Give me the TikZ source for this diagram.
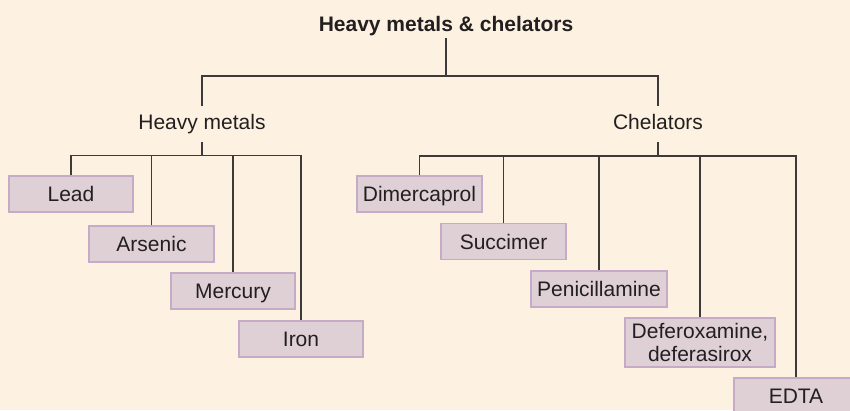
\documentclass[tikz,border=0pt]{standalone}
\usepackage{fontspec}
\setmainfont{Liberation Sans}
\definecolor{bg}{HTML}{FDF2E2}
\definecolor{boxfill}{HTML}{DFD0D6}
\definecolor{boxdraw}{HTML}{C6ABC8}
\definecolor{ink}{HTML}{231F20}
\definecolor{wirecol}{HTML}{3C3A3A}
\begin{document}
\begin{tikzpicture}[x=1pt,y=-1pt,
  every node/.style={font=\fontsize{21}{23.4}\selectfont, text=ink},
  boxbase/.style={draw=boxdraw, fill=boxfill, line width=1.2pt, minimum height=36pt, inner sep=0pt, align=center},
  item/.style={boxbase, text height=15pt, text depth=0pt},
  head/.style={inner sep=0pt, text height=15pt, text depth=5pt, outer ysep=8pt, anchor=base},
  wire/.style={draw=wirecol, line width=1.3pt}]
\path[fill=bg] (0,0) rectangle (850,410);
\useasboundingbox (0,0) rectangle (850,410);
\clip (0,0) rectangle (850,410);

\node[font=\fontsize{21}{23.4}\selectfont\bfseries, inner sep=0pt, text height=15pt, text depth=5pt, outer ysep=2pt, anchor=base] (root) at (446,31) {Heavy metals \& chelators};
\node[head] (hm) at (202,129) {Heavy metals};
\node[head] (ch) at (658,129) {Chelators};

\node[item, minimum width=124pt] (lead) at (71,194) {Lead};
\node[item, minimum width=125pt] (arsenic) at (151.5,244) {Arsenic};
\node[item, minimum width=124pt] (mercury) at (233,291) {Mercury};
\node[item, minimum width=124pt] (iron) at (301,339) {Iron};
\node[item, minimum width=125pt] (dimer) at (419.5,194) {Dimercaprol};
\node[item, minimum width=125pt] (succ) at (503.5,241.5) {Succimer};
\node[item, minimum width=136pt] (penic) at (599,289) {Penicillamine};
\node[boxbase, minimum width=150pt, minimum height=49pt] (defer) at (700,342.5) {Deferoxamine,\\deferasirox};
\node[item, minimum width=124pt] (edta) at (796,396) {EDTA};

\coordinate (toprow) at (0,76);
\coordinate (hmrow) at (0,155.5);
\coordinate (chrow) at (0,156);

\draw[wire] (root.south) -- (root.south |- toprow);
\draw[wire] (hm.north) -- (hm.north |- toprow) -- (ch.north |- toprow) -- (ch.north);

\draw[wire] (hm.south) -- (hm.south |- hmrow);
\draw[wire] (lead.north) -- (lead.north |- hmrow) -- (iron.north |- hmrow) -- (iron.north);
\draw[wire] (arsenic.north) -- (arsenic.north |- hmrow);
\draw[wire] (mercury.north) -- (mercury.north |- hmrow);

\draw[wire] (ch.south) -- (ch.south |- chrow);
\draw[wire] (dimer.north) -- (dimer.north |- chrow) -- (edta.north |- chrow) -- (edta.north);
\draw[wire] (succ.north) -- (succ.north |- chrow);
\draw[wire] (penic.north) -- (penic.north |- chrow);
\draw[wire] (defer.north) -- (defer.north |- chrow);
\end{tikzpicture}
\end{document}
